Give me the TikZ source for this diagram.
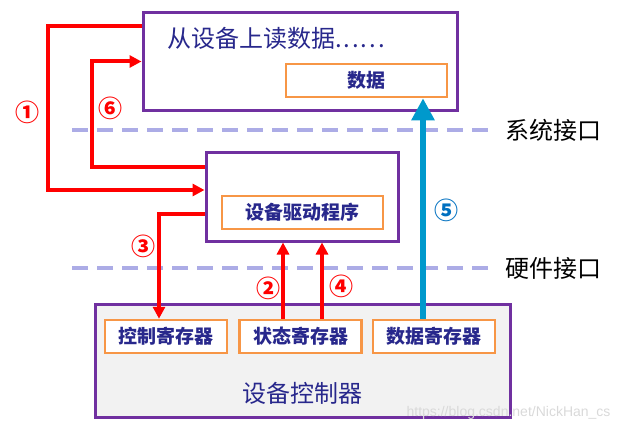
\documentclass[tikz,border=0pt]{standalone}
\usepackage{fontspec}
\setmainfont{Noto Sans CJK SC}
\newfontfamily\latin{Liberation Sans}
\usetikzlibrary{arrows.meta, positioning}

\definecolor{frame}{RGB}{112,48,160}
\definecolor{boxorange}{RGB}{247,150,70}
\definecolor{navy}{RGB}{40,40,140}
\definecolor{lav}{RGB}{172,172,230}
\definecolor{ctrlgray}{RGB}{242,242,242}
\definecolor{dblue}{RGB}{0,153,204}
\definecolor{nblue}{RGB}{0,112,192}

\begin{document}
\begin{tikzpicture}[
    x = 1pt, y = -1pt,
    node distance = 10pt,
    outer/.style = {draw=frame, line width=3pt, rectangle},
    inner/.style = {draw=boxorange, line width=2.5pt, rectangle, fill=white, minimum height=33pt, text=navy, font=\bfseries\fontsize{19}{19}\selectfont},
    reg/.style = {inner, minimum width=122pt},
    line/.style = {-{Triangle[length=12pt, width=12pt]}, red, line width=4pt},
    dataline/.style = {-{Triangle[length=22pt, width=22pt]}, dblue, line width=6.5pt},
    num/.style = {text=red, font=\bfseries\fontsize{24}{24}\selectfont},
    iface/.style = {lav, line width=4pt, dash pattern=on 16pt off 9pt},
    ifname/.style = {anchor=west, font=\fontsize{24}{24}\selectfont}
]
    \useasboundingbox (0,0) rectangle (620,433);

    % Interfaces
    \node [ifname] (sysif) at (502,130) {系统接口};
    \node [ifname] (hwif) at (502,268) {硬件接口};
    \draw [iface] (72,130) -- ([xshift=-10pt]sysif.west);
    \draw [iface] (72,268) -- ([xshift=-10pt]hwif.west);

    % Nodes
    \node [outer, minimum width=314pt, minimum height=97pt] (app) at (300,61.5) {};
    \node [anchor=west, inner sep=2pt, text=navy, font=\fontsize{24}{24}\selectfont] (apptext) at (165,38) {从设备上读数据{\addfontfeature{LetterSpace=8}......}};
    \node [inner, minimum width=161pt] (buf) at (366.5,80.5) {数据};
    \node [outer, minimum width=192pt, minimum height=89pt] (driver) at (302,196.5) {};
    \node [inner, minimum width=161pt] (drv) at (302.5,212.5) {设备驱动程序};
    \node [outer, fill=ctrlgray, minimum width=415pt, minimum height=113pt] (ctrl) at (302.5,360.5) {};
    \node [text=navy, font=\fontsize{24}{24}\selectfont] (ctrlname) at (302,393) {设备控制器};
    \node [reg] (creg) at (166,336.5) {控制寄存器};
    \node [reg, right=of creg] (sreg) {状态寄存器};
    \node [reg, right=9pt of sreg] (dreg) {数据寄存器};

    % Edges
    \draw [line] ([yshift=-15pt]app.north west) -- ++(-94,0) |- ([yshift=6.5pt]driver.west);
    \draw [line] ([yshift=29.5pt]driver.west) -- ++(-113,0) |- (app.west);
    \draw [line] ([yshift=-17.5pt]driver.west) -| ([xshift=-7pt]creg.north);
    \draw [line] ([xshift=-17.5pt]sreg.north) -- ([xshift=-19pt]driver.south);
    \draw [line] ([xshift=21.5pt]sreg.north) -- ([xshift=20pt]driver.south);
    \draw [dataline] ([xshift=-11pt]dreg.north) -- ([xshift=56.5pt]buf.south);

    % Step numbers
    \node [num] (n1) at (28,112) {①};
    \node [num] (n2) at (268,288) {②};
    \node [num] (n3) at (143,246) {③};
    \node [num] (n4) at (341,286) {④};
    \node [num, text=nblue] (n5) at (446,210) {⑤};
    \node [num] (n6) at (110,108) {⑥};

    \node [anchor=east, text=gray!30, font=\latin\fontsize{14}{14}\selectfont] (mark) at (614,413) {https://blog.csdn.net/NickHan\_cs};
\end{tikzpicture}
\end{document}
